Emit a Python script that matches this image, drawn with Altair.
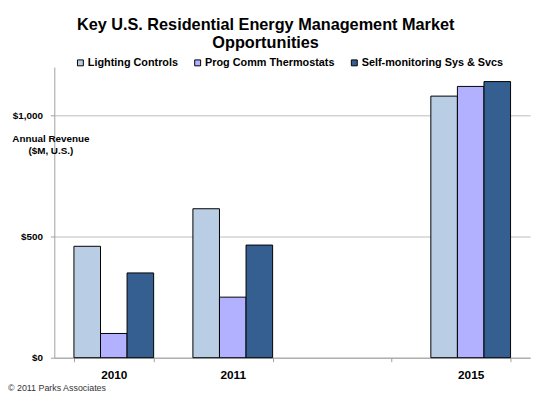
import pandas as pd
import altair as alt

# ---------------------------------------------------------------------------
# Data
# ---------------------------------------------------------------------------
years = ["2010", "2011", "2015"]
year_slots = ["2010", "2011", " ", "2015"]   # empty slot between 2011 and 2015
series = ["Lighting Controls", "Prog Comm Thermostats", "Self-monitoring Sys & Svcs"]
lighting = [460, 615, 1080]
thermostats = [100, 250, 1120]
self_monitoring = [350, 465, 1140]
colors = ["#B9CDE5", "#B1B1FF", "#355F91"]
y_ticks = [0, 500, 1000]

rows = []
for name, vals in zip(series, [lighting, thermostats, self_monitoring]):
    for yr, v in zip(years, vals):
        rows.append({"year": yr, "series": name, "revenue": v})
df = pd.DataFrame(rows)

FONT = "Liberation Sans"
W, H = 483, 295

bars = (
    alt.Chart(df)
    .mark_bar(stroke="black", strokeWidth=1)
    .encode(
        x=alt.X(
            "year:N",
            scale=alt.Scale(domain=year_slots, paddingInner=0.33, paddingOuter=0.165),
            title=None,
            axis=alt.Axis(
                labelAngle=0, labelFontSize=12, labelFontWeight="bold",
                labelColor="black", labelPadding=8,
                ticks=True, tickSize=4, tickColor="#A0A0A0", tickBand="extent",
                domainColor="#A0A0A0", grid=False,
            ),
        ),
        xOffset=alt.XOffset("series:N", scale=alt.Scale(domain=series, paddingInner=0)),
        y=alt.Y(
            "revenue:Q",
            scale=alt.Scale(domain=[0, 1200], nice=False),
            title=["Annual Revenue", "($M, U.S.)"],
            axis=alt.Axis(
                values=y_ticks, format="$,.0f",
                labelFontSize=10, labelFontWeight="bold", labelColor="black",
                tickSize=4, tickColor="#A0A0A0", labelPadding=8,
                domainColor="#A0A0A0", gridColor="#BDBDBD",
                titleAngle=0, titleX=-4, titleY=76, titleAlign="center",
                titleBaseline="alphabetic", titleFontSize=10, titleFontWeight="bold",
                titleColor="black", titleLineHeight=12,
            ),
        ),
        color=alt.Color(
            "series:N",
            scale=alt.Scale(domain=series, range=colors),
            legend=alt.Legend(
                title=None, orient="none", direction="horizontal",
                legendX=21, legendY=-10, symbolType="square", symbolSize=36,
                symbolStrokeColor="black", symbolStrokeWidth=1,
                labelFontSize=11, labelFontWeight="bold", labelColor="black",
                labelOffset=2, columnPadding=14,
            ),
        ),
    )
)

copyright_note = (
    alt.Chart(pd.DataFrame({"t": ["\u00a9 2011  Parks Associates"]}))
    .mark_text(align="left", baseline="alphabetic", fontSize=9, color="#333333", font=FONT)
    .encode(text="t:N", x=alt.value(-47), y=alt.value(H + 34))
)

chart = (
    alt.layer(bars, copyright_note)
    .properties(
        width=W,
        height=H,
        title=alt.TitleParams(
            ["Key U.S. Residential Energy Management Market", "Opportunities"],
            fontSize=16.5, fontWeight="bold", color="black", font=FONT,
            anchor="middle", frame="group", dx=-27, lineHeight=18, offset=6,
        ),
        autosize=alt.AutoSizeParams(type="none"),
        padding={"left": 47, "top": 57, "right": 12, "bottom": 40},
    )
    .configure(font=FONT, background="white")
    .configure_view(stroke=None)
)

chart.save("out.html", embed_options={"renderer": "svg", "actions": False})
